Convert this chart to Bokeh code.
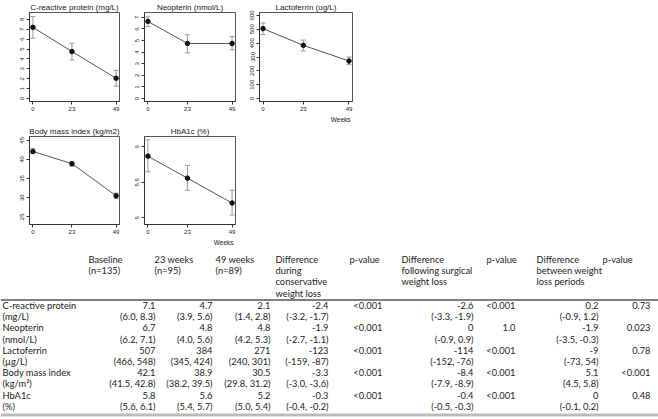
from bokeh.plotting import figure
from bokeh.models import ColumnDataSource, Whisker, TeeHead, Range1d, Title, Span
from bokeh.layouts import column, row
from bokeh.embed import file_html
from bokeh.resources import INLINE
from bokeh.core.properties import value

# ---------------- data ----------------
weeks = [0, 23, 49]

crp_mean = [7.2, 4.75, 2.05]
crp_lo = [6.1, 3.9, 1.25]
crp_hi = [8.3, 5.6, 2.85]

neo_mean = [6.65, 4.75, 4.75]
neo_lo = [6.2, 3.95, 4.2]
neo_hi = [7.05, 5.5, 5.35]

lac_mean = [505, 384, 271]
lac_lo = [462, 344, 245]
lac_hi = [545, 422, 300]

bmi_mean = [42.1, 38.9, 30.5]
bmi_lo = [41.5, 38.2, 29.8]
bmi_hi = [42.8, 39.5, 31.2]

hba_mean = [5.87, 5.56, 5.21]
hba_lo = [5.65, 5.39, 5.04]
hba_hi = [6.1, 5.74, 5.39]

panel_titles = ["C-reactive protein (mg/L)", "Neopterin (nmol/L)", "Lactoferrin (ug/L)",
                "Body mass index (kg/m2)", "HbA1c (%)"]
x_ticks = [0, 23, 49]
crp_ticks = [0, 1, 2, 3, 4, 5, 6, 7, 8]
neo_ticks = [0, 1, 2, 3, 4, 5, 6, 7]
lac_ticks = [0, 100, 200, 300, 400, 500, 600]
bmi_ticks = [25, 30, 35, 40, 45]
hba_ticks = [5, 5.5, 6]
hba_tick_labels = ["5", "5.5", "6"]
x_title = "Weeks"

# table
row_names = ["C-reactive protein", "Neopterin", "Lactoferrin", "Body mass index", "HbA1c"]
row_units = ["(mg/L)", "(nmol/L)", "(\u00b5g/L)", "(kg/m\u00b2)", "(%)"]
headers = [["Baseline", "(n=135)"], ["23 weeks", "(n=95)"], ["49 weeks", "(n=89)"],
           ["Difference", "during", "conservative", "weight loss"], ["p-value"],
           ["Difference", "following surgical", "weight loss"], ["p-value"],
           ["Difference", "between weight", "loss periods"], ["p-value"]]
baseline = ["7.1", "6.7", "507", "42.1", "5.8"]
baseline_ci = ["(6.0, 8.3)", "(6.2, 7.1)", "(466, 548)", "(41.5, 42.8)", "(5.6, 6.1)"]
wk23 = ["4.7", "4.8", "384", "38.9", "5.6"]
wk23_ci = ["(3.9, 5.6)", "(4.0, 5.6)", "(345, 424)", "(38.2, 39.5)", "(5.4, 5.7)"]
wk49 = ["2.1", "4.8", "271", "30.5", "5.2"]
wk49_ci = ["(1.4, 2.8)", "(4.2, 5.3)", "(240, 301)", "(29.8, 31.2)", "(5.0, 5.4)"]
diff_cons = ["-2.4", "-1.9", "-123", "-3.3", "-0.3"]
diff_cons_ci = ["(-3.2, -1.7)", "(-2.7, -1.1)", "(-159, -87)", "(-3.0, -3.6)", "(-0.4, -0.2)"]
p_cons = ["<0.001", "<0.001", "<0.001", "<0.001", "<0.001"]
diff_surg = ["-2.6", "0", "-114", "-8.4", "-0.4"]
diff_surg_ci = ["(-3.3, -1.9)", "(-0.9, 0.9)", "(-152, -76)", "(-7.9, -8.9)", "(-0.5, -0.3)"]
p_surg = ["<0.001", "1.0", "<0.001", "<0.001", "<0.001"]
diff_betw = ["0.2", "-1.9", "-9", "5.1", "0"]
diff_betw_ci = ["(-0.9, 1.2)", "(-3.5, -0.3)", "(-73, 54)", "(4.5, 5.8)", "(-0.1, 0.2)"]
p_betw = ["0.73", "0.023", "0.78", "<0.001", "0.48"]

# ---------------- style ----------------
CFONT = "Liberation Sans"
TFONT = "Lato"
TSIZE = "9.3px"


def panel(title, mean, lo, hi, yr, yticks, fw, fh, bl, br, bt, bb, show_weeks=False, overrides=None):
    ttl = Title(text=title, align="center", text_font=CFONT, text_font_size="8px",
                text_font_style="normal", text_color="#222222", standoff=1, offset=0)
    p = figure(title=ttl, width=bl + fw + br, height=bt + fh + bb, min_border_left=bl,
               min_border_right=br, min_border_top=bt, min_border_bottom=bb,
               x_range=Range1d(-2, 51), y_range=Range1d(*yr), output_backend="svg",
               toolbar_location=None, background_fill_color="white", border_fill_color="white")
    p.xgrid.visible = False
    p.ygrid.visible = False
    p.outline_line_color = "#555555"
    for ax in (p.xaxis[0], p.yaxis[0]):
        ax.axis_line_color = "#333333"
        ax.major_tick_line_color = "#333333"
        ax.minor_tick_line_color = None
        ax.major_tick_out = 3
        ax.major_tick_in = 0
        ax.major_label_text_font = CFONT
        ax.major_label_text_font_size = "6px"
        ax.major_label_text_color = "#222222"
        ax.major_label_standoff = 2
    p.xaxis.ticker = x_ticks
    p.yaxis.ticker = yticks
    p.yaxis.major_label_orientation = "vertical"
    if overrides:
        p.yaxis.major_label_overrides = overrides
    src = ColumnDataSource(dict(x=weeks, y=mean, lo=lo, hi=hi))
    p.add_layout(Whisker(source=src, base="x", upper="hi", lower="lo", line_color="#999999",
                         line_width=1,
                         upper_head=TeeHead(size=5, line_color="#999999", line_width=1),
                         lower_head=TeeHead(size=5, line_color="#999999", line_width=1)))
    p.line("x", "y", source=src, line_color="#555555", line_width=1)
    p.scatter("x", "y", source=src, size=4.5, color="#111111")
    if show_weeks:
        t = Title(text=x_title, align="right", text_font=CFONT, text_font_size="6.5px",
                  text_font_style="normal", text_color="#222222", standoff=0, offset=2)
        p.add_layout(t, "below")
    return p


p1 = panel(panel_titles[0], crp_mean, crp_lo, crp_hi, (-0.3, 8.7), crp_ticks, 90, 91, 29, 6, 10, 23)
p2 = panel(panel_titles[1], neo_mean, neo_lo, neo_hi, (-0.25, 7.42), neo_ticks, 91, 91, 19, 5, 10, 23)
p3 = panel(panel_titles[2], lac_mean, lac_lo, lac_hi, (-21, 621), lac_ticks, 93, 91, 19, 6, 10, 23,
           show_weeks=True)
p4 = panel(panel_titles[3], bmi_mean, bmi_lo, bmi_hi, (23.0, 46.0), bmi_ticks, 90, 93, 29, 6, 11, 17)
p5 = panel(panel_titles[4], hba_mean, hba_lo, hba_hi, (4.907, 6.147), hba_ticks, 91, 93, 19, 5, 11, 17,
           show_weeks=True, overrides={t: s for t, s in zip(hba_ticks, hba_tick_labels)})

# ---------------- table ----------------
TH = 174
pt = figure(width=658, height=TH, x_range=Range1d(0, 658), y_range=Range1d(TH, 0),
            output_backend="svg", toolbar_location=None, x_axis_type=None, y_axis_type=None,
            min_border=0, outline_line_color=None, background_fill_color="white",
            border_fill_color="white")
pt.xgrid.visible = False
pt.ygrid.visible = False

head_left = [88, 154, 215, 275, 349, 401, 486, 536, 602]
val_right = [155, 212, 270, 328, 382, 473, 515, 598, 650]
head_y0, head_dy = 14, 11.2
row_y0, row_dy = 60, 11.2

hx, hy, ht = [], [], []
for c, lines in enumerate(headers):
    for k, s in enumerate(lines):
        hx.append(head_left[c]); hy.append(head_y0 + k * head_dy); ht.append(s)
pt.text(x="x", y="y", text="t", source=ColumnDataSource(dict(x=hx, y=hy, t=ht)),
        text_font=value(TFONT), text_font_size=value(TSIZE), text_color="#222222",
        text_align="left", text_baseline="middle")

lx, ly, lt = [], [], []
for r in range(len(row_names)):
    lx += [2, 2]
    ly += [row_y0 + 2 * r * row_dy, row_y0 + (2 * r + 1) * row_dy]
    lt += [row_names[r], row_units[r]]
pt.text(x="x", y="y", text="t", source=ColumnDataSource(dict(x=lx, y=ly, t=lt)),
        text_font=value(TFONT), text_font_size=value(TSIZE), text_color="#222222",
        text_align="left", text_baseline="middle")

cols = [(baseline, baseline_ci), (wk23, wk23_ci), (wk49, wk49_ci), (diff_cons, diff_cons_ci),
        (p_cons, None), (diff_surg, diff_surg_ci), (p_surg, None), (diff_betw, diff_betw_ci),
        (p_betw, None)]
vx, vy, vt = [], [], []
for c, (vals, cis) in enumerate(cols):
    for r in range(len(vals)):
        vx.append(val_right[c]); vy.append(row_y0 + 2 * r * row_dy); vt.append(vals[r])
        if cis is not None:
            vx.append(val_right[c]); vy.append(row_y0 + (2 * r + 1) * row_dy); vt.append(cis[r])
pt.text(x="x", y="y", text="t", source=ColumnDataSource(dict(x=vx, y=vy, t=vt)),
        text_font=value(TFONT), text_font_size=value(TSIZE), text_color="#222222",
        text_align="right", text_baseline="middle")

pt.add_layout(Span(location=54.5, dimension="width", line_color="#000000", line_width=1))
pt.add_layout(Span(location=169.5, dimension="width", line_color="#bbbbbb", line_width=3))

page = column(row(p1, p2, p3), row(p4, p5), pt)
open("out.html", "w").write(file_html(page, INLINE))
